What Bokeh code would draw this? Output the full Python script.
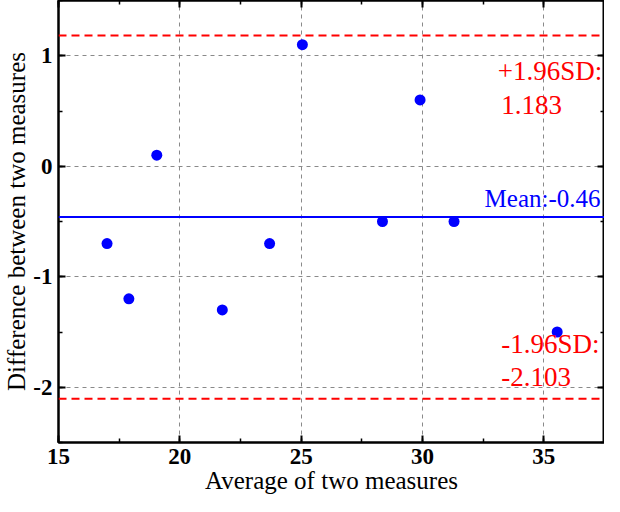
from bokeh.plotting import figure
from bokeh.models import Span, Label, LinearAxis, SingleIntervalTicker, Range1d, CustomJSTickFormatter
from bokeh.embed import file_html
from bokeh.resources import INLINE

# ---- data ----
avg_vals = [17.0, 17.9, 19.05, 21.75, 23.7, 25.05, 28.35, 29.9, 31.3, 35.55]
diff_vals = [-0.7, -1.2, 0.1, -1.3, -0.7, 1.1, -0.5, 0.6, -0.5, -1.5]
mean_diff = -0.46
upper_loa = 1.183
lower_loa = -2.103
x_tick_labels = {15: "15", 20: "20", 25: "25", 30: "30", 35: "35"}
y_tick_labels = {-2: "-2", -1: "-1", 0: "0", 1: "1"}
x_title = "Average of two measures"
y_title = "Difference between two measures"
mean_text = "Mean:" + str(mean_diff)
upper_text = ["+1.96SD:", f"{upper_loa:.3f}"]
lower_text = ["-1.96SD:", f"{lower_loa:.3f}"]

SERIF = "Liberation Serif"

p = figure(width=604, height=496, output_backend="svg", toolbar_location=None,
           x_range=Range1d(15, 37.5), y_range=Range1d(-2.5, 1.5),
           min_border_left=0, min_border_right=0, min_border_top=0, min_border_bottom=0,
           background_fill_color="white", border_fill_color="white")
p.outline_line_color = "black"
p.outline_line_width = 2

xt = SingleIntervalTicker(interval=5, num_minor_ticks=2)
yt = SingleIntervalTicker(interval=1, num_minor_ticks=2)

def style_axis(ax, ticker, show_labels):
    ax.ticker = ticker
    ax.axis_line_color = "black"
    ax.axis_line_width = 2
    ax.major_tick_in = 7
    ax.major_tick_out = 0
    ax.minor_tick_in = 4
    ax.minor_tick_out = 0
    ax.major_tick_line_width = 2
    ax.minor_tick_line_width = 1.5
    ax.major_tick_line_color = "black"
    ax.minor_tick_line_color = "black"
    if show_labels:
        ax.major_label_text_font = SERIF
        ax.major_label_text_font_style = "bold"
        ax.major_label_text_font_size = "23px"
        ax.major_label_text_color = "black"
        ax.major_label_standoff = 6
        ax.axis_label_text_font = SERIF
        ax.axis_label_text_font_style = "normal"
        ax.axis_label_text_font_size = "25px"
        ax.axis_label_text_color = "black"
        ax.axis_label_standoff = 0
    else:
        ax.formatter = CustomJSTickFormatter(code="return ''")
        ax.major_label_text_font_size = "1px"
        ax.major_label_standoff = 0
        ax.axis_label = None

xa = p.xaxis[0]
ya = p.yaxis[0]
style_axis(xa, xt, True)
style_axis(ya, yt, True)
xa.axis_label = x_title
ya.axis_label = y_title
xa.major_label_overrides = x_tick_labels
ya.major_label_overrides = y_tick_labels

top_ax = LinearAxis()
right_ax = LinearAxis()
style_axis(top_ax, SingleIntervalTicker(interval=5, num_minor_ticks=2), False)
style_axis(right_ax, SingleIntervalTicker(interval=1, num_minor_ticks=2), False)
p.add_layout(top_ax, "above")
p.add_layout(right_ax, "right")

for g in (p.xgrid[0], p.ygrid[0]):
    g.grid_line_color = "#8a8a8a"
    g.grid_line_dash = "4 4"
    g.grid_line_width = 1
p.xgrid[0].ticker = xt
p.ygrid[0].ticker = yt

# reference lines
p.add_layout(Span(location=upper_loa, dimension="width", line_color="#ff0000",
                  line_width=2, line_dash="8 5"))
p.add_layout(Span(location=lower_loa, dimension="width", line_color="#ff0000",
                  line_width=2, line_dash="8 5"))
p.add_layout(Span(location=mean_diff, dimension="width", line_color="#0000ff",
                  line_width=2))

# points
p.scatter(avg_vals, diff_vals, size=11, color="#0000ff", line_color=None)

# annotations
p.add_layout(Label(x=37.5, y=mean_diff, x_offset=-4, y_offset=5, text=mean_text,
                   text_align="right", text_baseline="bottom", text_font=SERIF,
                   text_font_size="25px", text_color="#0000ff"))
p.add_layout(Label(x=33.1, y=upper_loa - 0.32, text=upper_text[0], text_align="left",
                   text_baseline="alphabetic", text_font=SERIF, text_font_size="27px",
                   text_color="#ff0000"))
p.add_layout(Label(x=33.25, y=upper_loa - 0.63, text=upper_text[1], text_align="left",
                   text_baseline="alphabetic", text_font=SERIF, text_font_size="27px",
                   text_color="#ff0000"))
p.add_layout(Label(x=33.25, y=lower_loa + 0.49, text=lower_text[0], text_align="left",
                   text_baseline="alphabetic", text_font=SERIF, text_font_size="27px",
                   text_color="#ff0000"))
p.add_layout(Label(x=33.25, y=lower_loa + 0.2, text=lower_text[1], text_align="left",
                   text_baseline="alphabetic", text_font=SERIF, text_font_size="27px",
                   text_color="#ff0000"))

open("out.html", "w").write(file_html(p, INLINE))
